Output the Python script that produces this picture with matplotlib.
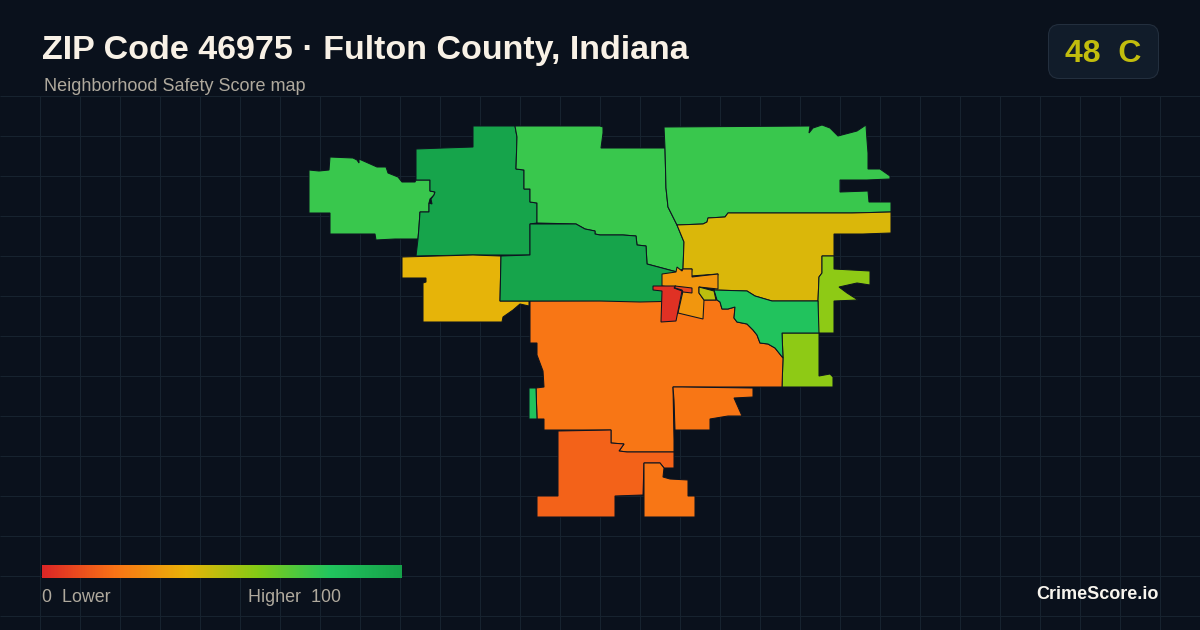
import numpy as np
import matplotlib
matplotlib.use("Agg")
import matplotlib.pyplot as plt
from matplotlib.colors import LinearSegmentedColormap, Normalize
from matplotlib.patches import Polygon, FancyBboxPatch

plt.rcParams['font.family'] = ['Liberation Sans', 'DejaVu Sans']

# ---- data: area outlines (map coordinates) and safety scores ----
west_far = [(309,170),(319,171),(329,170),(330,157),(353,158),(357,160),(359,163),(359,159),(368,163),(377,167),(386,167),(388,173),(398,177),(402,182),(415,182),(416,180),(430,180),(430,191),(435,192),(434,195),(430,199),(429,203),(429,212),(420,212),(419,227),(418,239),(395,239),(376,240),(375,234),(330,234),(330,213),(309,213)]
northwest = [(416,149),(443,148),(473,147),(473,126),(515,126),(517,137),(516,169),(524,170),(524,189),(530,189),(530,202),(537,203),(537,223),(530,224),(530,255),(473,255),(416,256),(418,239),(419,227),(420,212),(429,212),(429,203),(432,204),(431,199),(434,195),(435,192),(430,191),(430,180),(416,180)]
north_mid = [(515,126),(600,126),(603,127),(603,133),(601,148),(665,148),(666,188),(668,207),(677,225),(684,242),(683,269),(677,272),(647,264),(646,246),(637,245),(636,236),(623,235),(600,235),(595,234),(595,231),(585,229),(576,224),(537,223),(537,203),(530,202),(530,189),(524,189),(524,170),(516,169),(517,137)]
northeast = [(664,127),(810,126),(809,133),(813,128),(822,125),(830,128),(838,136),(857,131),(866,125),(867,140),(868,153),(868,169),(880,169),(890,176),(890,179),(867,180),(840,180),(840,192),(868,191),(869,202),(891,202),(891,212),(852,213),(728,213),(725,217),(708,218),(707,222),(703,224),(677,225),(668,207),(666,188),(665,148)]
east_gold = [(677,225),(703,224),(707,222),(708,218),(725,217),(728,213),(852,213),(891,212),(891,233),(863,234),(834,234),(834,256),(822,256),(822,273),(819,277),(818,301),(792,301),(772,301),(755,296),(747,291),(714,290),(718,274),(691,276),(692,269),(683,269),(684,242)]
east_lime = [(822,256),(834,256),(834,269),(870,271),(870,285),(857,283),(839,287),(847,293),(858,300),(834,301),(834,333),(818,333),(818,317),(818,301),(819,277),(822,273)]
southeast_lime = [(782,333),(819,333),(819,376),(830,374),(833,377),(833,387),(782,387),(783,358)]
east_green = [(714,290),(747,291),(755,296),(772,301),(818,301),(819,333),(782,333),(783,358),(775,348),(768,344),(760,343),(757,335),(753,330),(747,324),(737,322),(734,318),(735,307),(728,309),(722,309),(720,302),(717,300)]
central_orange = [(530,301),(530,343),(537,343),(537,355),(543,371),(544,387),(536,388),(537,419),(544,419),(544,430),(611,430),(611,443),(624,444),(619,451),(627,452),(674,452),(674,440),(673,387),(782,387),(783,358),(775,348),(768,344),(760,343),(757,335),(753,330),(747,324),(737,322),(734,318),(735,307),(728,309),(722,309),(720,302),(717,300)]
south_bump = [(673,387),(682,387),(753,388),(753,397),(734,398),(742,416),(728,416),(710,419),(710,430),(675,430),(674,400)]
south_dark = [(558,431),(611,430),(611,443),(624,444),(619,451),(627,452),(674,452),(674,468),(664,468),(660,463),(644,463),(643,495),(615,496),(615,517),(595,517),(570,517),(537,517),(537,496),(558,496)]
south_small = [(644,463),(660,463),(664,468),(663,477),(670,479),(688,480),(688,496),(695,496),(695,517),(644,517)]
west_strip = [(529,388),(536,388),(537,419),(529,419)]
west_yellow = [(402,257),(473,255),(501,256),(500,301),(529,301),(529,306),(520,304),(513,310),(503,317),(502,322),(423,322),(423,283),(426,282),(426,278),(402,278)]
center_dark = [(530,224),(576,224),(585,229),(595,231),(595,234),(600,235),(623,235),(636,236),(637,245),(646,246),(647,264),(677,272),(684,301),(640,302),(600,301),(500,301),(501,256),(530,255)]
city = [(662,274),(676,272),(677,267),(682,271),(683,269),(692,269),(692,277),(700,276),(718,274),(718,289),(699,287),(699,293),(704,300),(703,319),(678,313),(683,291),(675,288),(662,286)]
olive = [(699,287),(714,291),(716,300),(704,300),(699,293)]
red_core = [(653,286),(676,286),(674,288),(682,291),(676,321),(661,322),(662,291),(653,290)]
red_arm = [(675,286),(692,288),(692,293),(683,292),(682,290),(675,288)]

areas = [west_far, northwest, north_mid, northeast, east_gold, east_lime, southeast_lime,
         central_orange, east_green, south_bump, south_dark, south_small, west_strip,
         west_yellow, center_dark, city, olive, red_core, red_arm]
scores = [75, 99, 75, 75, 43, 58, 58, 21, 81, 21, 16, 21, 81, 41, 99, 31, 49, 3, 8]

stops = [0, 20, 40, 60, 80, 100]
stop_colors = ['#dc2626', '#f97316', '#eab308', '#84cc16', '#22c55e', '#16a34a']
scale_ticks = np.linspace(0, 100, 361)

title = "ZIP Code 46975 · Fulton County, Indiana"
subtitle = "Neighborhood Safety Score map"
badge_text = "48  C"
low_label = "0  Lower"
high_label = "Higher  100"
brand = "CrimeScore.io"

BG = '#0a111c'
GRID = '#17232f'
TEXT_SOFT = '#afa99d'

# ---- figure ----
fig = plt.figure(figsize=(12, 6.3), dpi=100, facecolor=BG)
ax = fig.add_axes([0, 0, 1, 1])
ax.set_xlim(0, 1200)
ax.set_ylim(630, 0)
ax.axis('off')

# grid
for x in np.arange(40, 1200, 40):
    ax.plot([x, x], [96, 630], color=GRID, lw=0.75, zorder=1, solid_capstyle='butt')
for y in np.arange(96, 630, 40):
    ax.plot([0, 1200], [y, y], color=GRID, lw=0.75, zorder=1, solid_capstyle='butt')

cmap = LinearSegmentedColormap.from_list('score', [(s / 100, c) for s, c in zip(stops, stop_colors)])
norm = Normalize(0, 100)

for pts, score in zip(areas, scores):
    ax.add_patch(Polygon(pts, closed=True, facecolor=cmap(norm(score)),
                         edgecolor='#0d1420', lw=0.75, joinstyle='miter', zorder=3))

# text
ax.text(42, 59, title, color='#f8f1e6', fontsize=24.5, fontweight='bold', va='baseline', zorder=5)
ax.text(44, 91, subtitle, color=TEXT_SOFT, fontsize=13, va='baseline', zorder=5)

# badge
ax.add_patch(FancyBboxPatch((1048.5 + 11, 24.5 + 11), 110 - 22, 54 - 22,
                            boxstyle='round,pad=11,rounding_size=11',
                            facecolor='#111c2a', edgecolor='#232f3e', lw=0.75, zorder=4))
ax.text(1103, 62, badge_text, color=cmap(norm(48)), fontsize=23, fontweight='bold',
        ha='center', va='baseline', zorder=5)

# colour scale
ax.imshow(scale_ticks[None, :], extent=(42, 402, 578, 565), cmap=cmap, norm=norm,
          aspect='auto', zorder=4, interpolation='bilinear')
ax.set_xlim(0, 1200)
ax.set_ylim(630, 0)
ax.text(42, 602, low_label, color=TEXT_SOFT, fontsize=12.85, va='baseline', zorder=5)
ax.text(341.5, 602, high_label, color=TEXT_SOFT, fontsize=12.85, ha='right', va='baseline', zorder=5)
ax.text(1158.5, 599, brand, color='#f8f5ee', fontsize=13, fontweight='bold', ha='right', va='baseline', zorder=5)

fig.savefig('out.png', dpi=100, facecolor=BG)
